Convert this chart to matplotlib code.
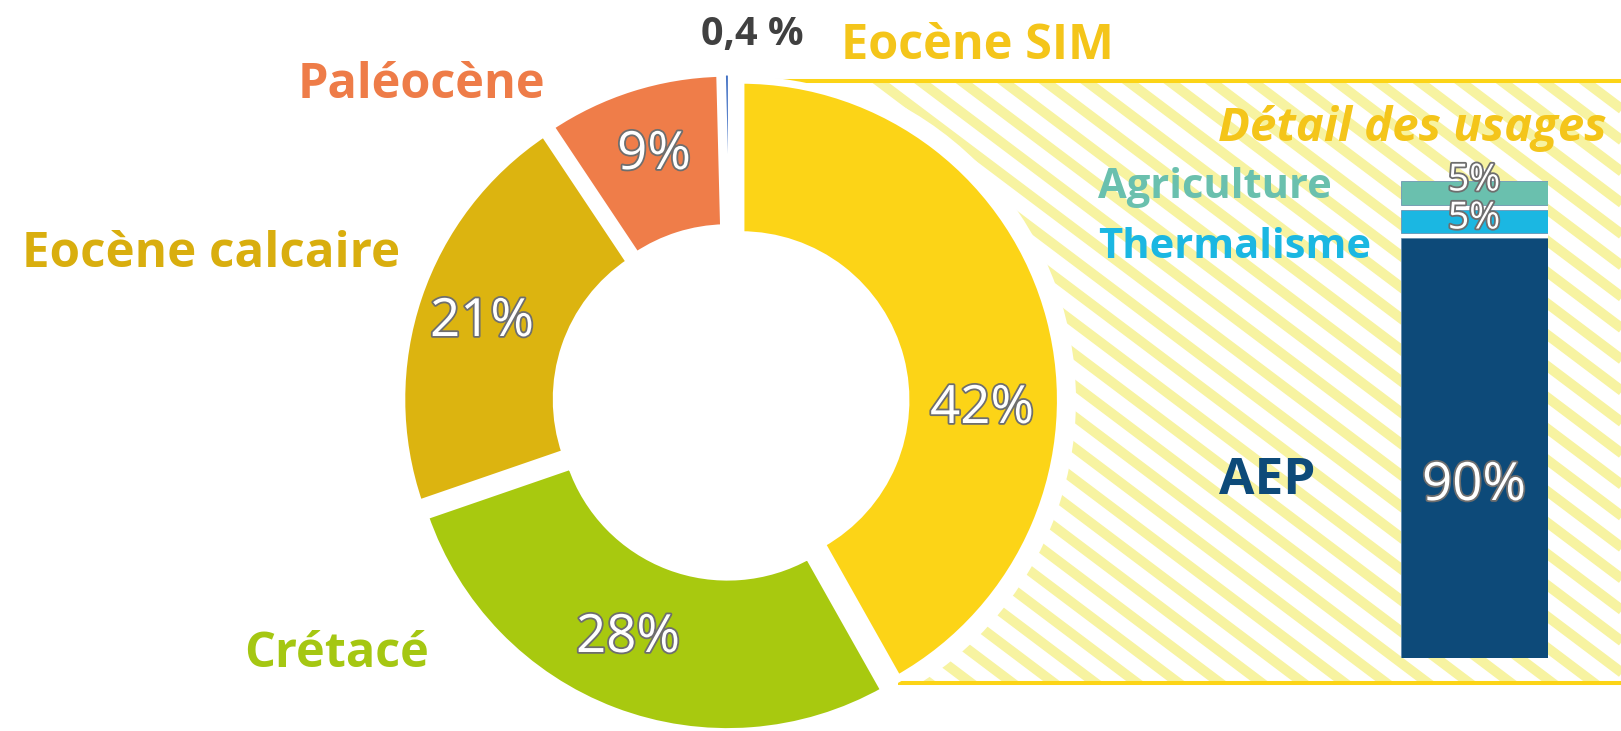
import numpy as np
import matplotlib
matplotlib.use("Agg")
import matplotlib.pyplot as plt
from matplotlib.patches import Wedge, Rectangle
from matplotlib.collections import LineCollection
import matplotlib.patheffects as pe

W, H = 1621, 731

# ---------------- data ----------------
aquifers = ["Eocène SIM", "Crétacé", "Eocène calcaire", "Paléocène", "Autre"]
aquifer_share = [42, 28, 21, 9, 0.4]
aquifer_pct_labels = ["42%", "28%", "21%", "9%"]
aquifer_colors = ["#FCD417", "#A8C90F", "#DCB410", "#EF7D49", "#4472C4"]
aquifer_label_colors = ["#F4C51A", "#A5C712", "#D9AE0E", "#EE7C48", "#404040"]
small_share_label = "0,4 %"

usages = ["AEP", "Thermalisme", "Agriculture"]
usage_share = [90, 5, 5]
usage_pct_labels = ["90%", "5%", "5%"]
usage_colors = ["#0D4A79", "#1BB7E2", "#6AC0AE"]
usage_label_colors = ["#0D4A79", "#1BB7E2", "#6AC0AE"]
detail_title = "Détail des usages"

FONT = ["Open Sans", "DejaVu Sans"]
plt.rcParams["font.family"] = FONT

fig = plt.figure(figsize=(W / 100, H / 100), dpi=100)
ax = fig.add_axes([0, 0, 1, 1])

# ---------------- donut ----------------
cx, cy = 731, H - 402.5
R, ring = 320, 155
wedges, _ = ax.pie(aquifer_share, colors=aquifer_colors, startangle=90,
                   counterclock=False, explode=[10] * len(aquifer_share),
                   radius=R, center=(cx, cy),
                   wedgeprops=dict(width=ring, edgecolor="white", linewidth=5.4))
for w in wedges:
    w.set_zorder(5)
wedges[-1].set_linewidth(4.3)

ax.set_xlim(0, W)
ax.set_ylim(0, H)
ax.set_aspect("auto")
ax.axis("off")

# ---------------- hatched detail band ----------------
yw = wedges[0]
wcx, wcy = yw.center
t1 = np.deg2rad(yw.theta1)
corner_x = wcx + R * np.cos(t1)
corner_y = wcy + R * np.sin(t1)
top_y = wcy + R - 1.5
bot_y = corner_y - 4

band_clip = Rectangle((wcx, bot_y), W - wcx + 20, top_y - bot_y,
                      transform=ax.transData, facecolor="none", edgecolor="none")
ang = np.deg2rad(37)
d = np.array([np.cos(ang), -np.sin(ang)])
n = np.array([np.sin(ang), np.cos(ang)])
p_ref = np.array([1180.0, 360.0])
segs = []
for k in range(-40, 41):
    p0 = p_ref + k * 25 * n
    segs.append([p0 - 1400 * d, p0 + 1400 * d])
lc = LineCollection(segs, colors="#F7F3A1", linewidths=7.2, zorder=1)
ax.add_collection(lc)
lc.set_clip_path(band_clip)

cover = Wedge((wcx, wcy), R - 2.7 + 18, -90, 90, facecolor="white",
              edgecolor="none", zorder=2)
ax.add_patch(cover)

ax.plot([wcx, W + 5], [top_y, top_y], color="#FCD417", lw=2.9,
        solid_capstyle="butt", zorder=3)
ax.plot([corner_x, W + 5], [bot_y, bot_y], color="#FCD417", lw=2.9,
        solid_capstyle="butt", zorder=3)

# ---------------- stacked usage bar ----------------
px_per_pct = 420 / 90
gap = 5 / px_per_pct
ax2 = fig.add_axes([1401 / W, (H - 658) / H, 147 / W,
                    (100 + 2 * gap) * px_per_pct / H])
ax2.patch.set_alpha(0)
ax2.set_xlim(-0.5, 0.5)
ax2.set_ylim(0, 100 + 2 * gap)
ax2.axis("off")
ax2.bar(0, sum(usage_share) + 2 * gap, width=1, color="white", zorder=1)
bottom = 0
for val, col in zip(usage_share, usage_colors):
    ax2.bar(0, val, bottom=bottom, width=1, color=col, edgecolor="#5F86A8",
            linewidth=0.5, zorder=2)
    bottom += val + gap

# ---------------- texts ----------------
stroke = [pe.withStroke(linewidth=2.6, foreground="#6E6E6E")]

def label(x, y_img, s, size, color, weight="bold", ha="center", style="normal",
          fx=None, target=ax):
    target.text(x, H - y_img, s, fontsize=size, color=color, fontweight=weight,
                ha=ha, va="baseline", fontstyle=style, path_effects=fx,
                zorder=10, transform=ax.transData, clip_on=False)

# category labels
label(977, 59, aquifers[0], 35, aquifer_label_colors[0])
label(337, 667, aquifers[1], 35, aquifer_label_colors[1])
label(211, 267, aquifers[2], 35.5, aquifer_label_colors[2])
label(421, 98, aquifers[3], 35, aquifer_label_colors[3])
label(752, 44.5, small_share_label, 28.5, aquifer_label_colors[4])

# donut percentages
pct_pos = [(982, 423), (628, 652), (482, 336), (654, 169)]
for (x, yb), s in zip(pct_pos, aquifer_pct_labels):
    label(x, yb, s, 38, "white", weight="normal", fx=stroke)

# detail panel
label(1412, 141.5, detail_title, 34, aquifer_label_colors[0],
      weight="bold", style="italic")
label(1098, 198.5, usages[2], 30, usage_label_colors[2], ha="left")
label(1098, 257.5, usages[1], 30, usage_label_colors[1], ha="left")
label(1267, 494, usages[0], 37, usage_label_colors[0])

bar_label_pos = [(1474, 500, 38), (1474, 228.5, 27), (1474, 190.5, 27)]
for (x, yb, fs), s in zip(bar_label_pos, usage_pct_labels):
    label(x, yb, s, fs, "white", weight="normal", fx=stroke, target=ax2)

fig.savefig("out.png", dpi=100)
